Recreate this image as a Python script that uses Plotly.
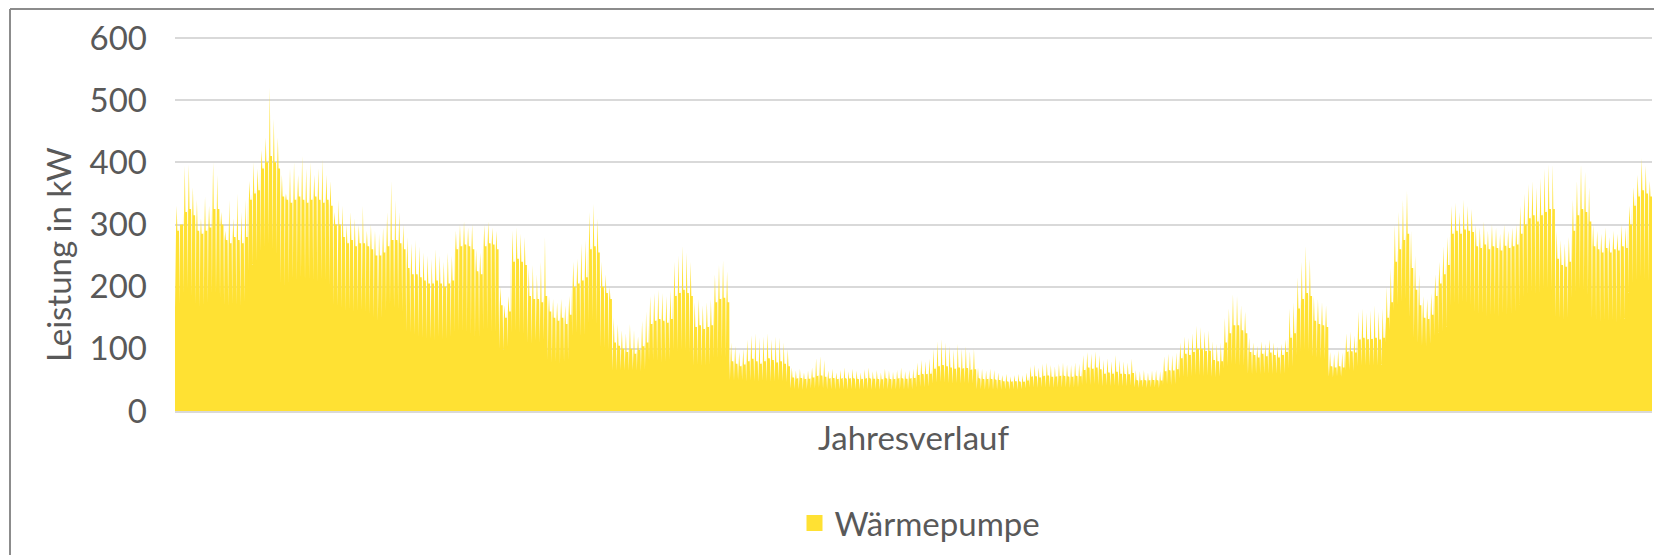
import plotly.graph_objects as go

# Daily values (kW): daytime peak, typical level, night dip
peak_kw = [
    330, 300, 395, 397, 360, 340, 310, 345, 330, 400,
    380, 320, 290, 340, 310, 350, 320, 340, 370, 400,
    390, 420, 440, 520, 470, 440, 380, 350, 390, 400,
    380, 410, 390, 400, 380, 390, 405, 380, 370, 320,
    340, 330, 300, 320, 310, 300, 330, 290, 300, 290,
    285, 295, 320, 370, 340, 320, 300, 280, 270, 275,
    265, 255, 250, 245, 260, 250, 240, 255, 250, 290,
    300, 305, 295, 300, 260, 255, 300, 305, 295, 290,
    200, 170, 185, 290, 295, 285, 280, 230, 235, 220,
    240, 280, 185, 180, 175, 180, 170, 185, 240, 245,
    270, 275, 320, 333, 310, 240, 220, 200, 150, 140,
    130, 125, 140, 130, 120, 145, 160, 185, 190, 195,
    190, 185, 195, 240, 250, 266, 255, 240, 175, 180,
    170, 175, 180, 220, 235, 242, 225, 110, 105, 95,
    100, 115, 122, 125, 118, 120, 125, 115, 120, 118,
    110, 100, 70, 65, 68, 62, 65, 70, 85, 88,
    82, 65, 68, 62, 66, 70, 64, 68, 65, 62,
    67, 70, 64, 66, 62, 68, 65, 63, 66, 70,
    64, 66, 68, 78, 82, 80, 84, 100, 112, 116,
    110, 105, 98, 108, 100, 104, 96, 100, 70, 68,
    65, 68, 66, 62, 58, 60, 56, 58, 60, 58,
    62, 72, 75, 70, 76, 78, 74, 72, 76, 78,
    75, 74, 78, 76, 90, 95, 92, 96, 90, 82,
    85, 80, 90, 82, 80, 78, 84, 66, 64, 66,
    62, 65, 66, 64, 88, 92, 90, 94, 110, 120,
    118, 125, 137, 135, 128, 130, 112, 108, 110, 150,
    165, 188, 185, 170, 160, 118, 110, 105, 112, 108,
    115, 110, 104, 108, 115, 165, 175, 215, 240, 266,
    245, 185, 180, 175, 170, 95, 92, 98, 94, 125,
    128, 122, 160, 165, 158, 162, 170, 160, 165, 200,
    230, 300, 320, 340, 354, 290, 250, 220, 185, 180,
    190, 220, 240, 265, 280, 330, 335, 320, 340, 330,
    325, 300, 295, 305, 290, 300, 295, 285, 300, 290,
    295, 300, 330, 350, 365, 370, 360, 375, 390, 397,
    397, 290, 275, 270, 280, 340, 370, 397, 385, 360,
    300, 290, 285, 295, 280, 290, 285, 300, 295, 330,
    360, 380, 407, 395, 370,
]

level_kw = [
    290, 300, 320, 325, 315, 290, 285, 290, 295, 325,
    325, 300, 275, 270, 280, 275, 270, 280, 340, 350,
    355, 390, 400, 410, 400, 390, 345, 340, 335, 340,
    345, 340, 335, 340, 345, 340, 335, 340, 330, 300,
    300, 280, 270, 275, 265, 270, 270, 265, 260, 250,
    250, 255, 265, 275, 275, 270, 260, 230, 220, 220,
    215, 210, 205, 205, 210, 205, 200, 205, 210, 260,
    265, 268, 265, 260, 225, 220, 265, 270, 268, 260,
    170, 150, 160, 240, 245, 240, 235, 185, 180, 180,
    175, 185, 160, 150, 145, 150, 140, 155, 200, 205,
    210, 215, 260, 265, 255, 200, 190, 180, 110, 105,
    100, 95, 100, 92, 98, 104, 110, 140, 145, 148,
    145, 142, 148, 185, 190, 195, 190, 185, 135, 138,
    132, 135, 138, 175, 180, 182, 175, 80, 76, 72,
    75, 80, 84, 80, 76, 80, 85, 82, 78, 80,
    76, 72, 54, 52, 53, 51, 52, 54, 56, 57,
    55, 52, 53, 51, 52, 53, 52, 53, 52, 51,
    52, 53, 52, 52, 51, 53, 52, 51, 52, 53,
    52, 52, 53, 58, 60, 59, 60, 68, 72, 74,
    72, 70, 68, 70, 68, 69, 66, 67, 53, 52,
    51, 52, 51, 50, 48, 48, 47, 48, 48, 47,
    49, 55, 56, 54, 56, 57, 55, 55, 56, 57,
    56, 55, 57, 56, 66, 70, 68, 70, 67, 60,
    62, 60, 63, 60, 60, 59, 61, 50, 49, 50,
    49, 50, 50, 49, 64, 66, 65, 67, 85, 92,
    90, 95, 100, 100, 96, 97, 82, 80, 80, 110,
    125, 138, 138, 130, 125, 95, 90, 86, 92, 88,
    94, 90, 86, 90, 95, 118, 125, 165, 180, 190,
    185, 145, 140, 138, 135, 72, 70, 72, 70, 95,
    96, 94, 115, 118, 115, 116, 118, 115, 118, 150,
    175, 240, 260, 275, 285, 230, 195, 170, 150, 148,
    155, 185, 205, 220, 235, 285, 290, 285, 292, 290,
    288, 265, 262, 268, 260, 265, 262, 258, 266, 262,
    265, 268, 285, 300, 310, 315, 305, 315, 320, 325,
    325, 245, 235, 232, 240, 290, 315, 325, 320, 305,
    265, 260, 255, 262, 255, 260, 258, 265, 262, 300,
    330, 345, 355, 350, 345,
]

low_kw = [
    165, 170, 190, 195, 185, 172, 168, 170, 175, 188,
    190, 180, 170, 168, 172, 170, 168, 175, 225, 235,
    240, 255, 262, 270, 258, 250, 205, 200, 205, 212,
    210, 215, 208, 212, 210, 208, 212, 210, 200, 170,
    168, 165, 160, 162, 158, 160, 162, 158, 155, 150,
    145, 148, 160, 168, 165, 162, 158, 128, 125, 122,
    120, 118, 115, 116, 114, 118, 115, 116, 118, 125,
    128, 126, 125, 124, 120, 118, 130, 132, 128, 125,
    100, 98, 102, 125, 128, 124, 122, 110, 108, 112,
    110, 115, 82, 78, 80, 75, 78, 82, 122, 125,
    120, 122, 140, 145, 138, 102, 100, 98, 65, 64,
    66, 65, 64, 66, 65, 64, 66, 80, 82, 80,
    78, 80, 82, 95, 96, 98, 95, 94, 73, 74,
    72, 73, 74, 85, 86, 88, 85, 50, 49, 50,
    50, 48, 49, 48, 47, 49, 48, 47, 48, 49,
    48, 47, 36, 35, 35, 34, 35, 36, 36, 37,
    36, 35, 35, 34, 35, 35, 34, 35, 35, 34,
    35, 35, 34, 35, 34, 35, 35, 34, 35, 35,
    34, 35, 35, 38, 39, 38, 39, 44, 46, 47,
    46, 45, 44, 45, 44, 45, 44, 44, 35, 35,
    34, 35, 34, 34, 34, 35, 34, 35, 34, 35,
    36, 38, 38, 37, 38, 38, 38, 37, 38, 38,
    38, 37, 38, 38, 42, 43, 42, 43, 42, 40,
    41, 40, 41, 40, 40, 40, 41, 38, 37, 38,
    37, 38, 38, 37, 42, 43, 42, 43, 52, 55,
    54, 56, 58, 57, 56, 57, 55, 54, 55, 68,
    72, 75, 74, 73, 72, 60, 59, 60, 59, 60,
    60, 59, 60, 59, 60, 68, 72, 90, 95, 98,
    96, 86, 85, 84, 82, 55, 54, 56, 55, 65,
    66, 64, 72, 74, 73, 72, 74, 73, 74, 110,
    130, 160, 170, 175, 180, 150, 118, 110, 105, 104,
    108, 120, 125, 128, 135, 168, 172, 170, 174, 172,
    170, 158, 155, 156, 152, 155, 154, 150, 156, 154,
    155, 158, 170, 182, 188, 192, 188, 190, 194, 195,
    192, 152, 148, 146, 150, 180, 190, 195, 192, 185,
    148, 145, 142, 146, 144, 145, 142, 146, 148, 190,
    205, 210, 215, 212, 208,
]

series_name = "Wärmepumpe"
y_title = "Leistung in kW"
x_title = "Jahresverlauf"
y_ticks = [0, 100, 200, 300, 400, 500, 600]

# hour-of-day template for the daily shape: level, night dip, level, peak, level, level
profile_hours = [0, 3, 6, 10, 14, 23]

YELLOW = "#FFE133"
TEXT = "#595959"
GRID = "#D9D9D9"
FONT = "Lato"
FS = 33

hours, power = [], []
for d, (pk, lv, lo) in enumerate(zip(peak_kw, level_kw, low_kw)):
    for h, v in zip(profile_hours, (lv, lo, lv, pk, lv, lv)):
        hours.append(d * 24 + h)
        power.append(v)

fig = go.Figure()
fig.add_trace(go.Scatter(
    x=hours, y=power, mode="lines", line=dict(width=0, color=YELLOW),
    fill="tozeroy", fillcolor=YELLOW, showlegend=False, hoverinfo="skip",
))
fig.add_trace(go.Scatter(
    x=[None], y=[None], mode="markers", name=series_name,
    marker=dict(symbol="square", size=18, color=YELLOW),
))

# page body has an 8px margin, so the figure is 8px smaller than the window
W, H = 1654, 547
L, R, T, B = 167, 10, 27, 144
pw, ph = W - L - R, H - T - B
Y_TOP = 600 * ph / 373  # keeps the 600 gridline just inside the plot top

def px_x(p):
    return (p - L) / pw

def px_y(p):
    return (H - B - p) / ph

fig.update_layout(
    width=W, height=H,
    margin=dict(l=L, r=R, t=T, b=B, autoexpand=False),
    paper_bgcolor="white", plot_bgcolor="white",
    font=dict(family=FONT, size=FS, color=TEXT),
    xaxis=dict(
        range=[0, 365 * 24 - 1], showgrid=False, showticklabels=False,
        zeroline=False, showline=True, linecolor=GRID, linewidth=1.5,
        ticks="", title=dict(text=x_title, font=dict(size=FS, color=TEXT), standoff=15),
    ),
    yaxis=dict(
        range=[0, Y_TOP], tickvals=y_ticks, showgrid=True, gridcolor=GRID, gridwidth=1.5,
        zeroline=False, showline=False, ticks="", ticklabelstandoff=27,
        tickfont=dict(size=FS, color=TEXT),
    ),
    legend=dict(
        orientation="h", x=px_x(912), xanchor="center", y=px_y(515), yanchor="middle",
        font=dict(size=FS, color=TEXT), itemwidth=30, bgcolor="rgba(0,0,0,0)",
    ),
    annotations=[
        dict(text=y_title, textangle=-90, xref="paper", yref="paper",
             x=px_x(50), y=px_y(247), xanchor="center", yanchor="middle",
             showarrow=False, font=dict(size=FS, color=TEXT)),
    ],
    shapes=[
        dict(type="line", xref="paper", yref="paper", x0=px_x(2), x1=px_x(2),
             y0=px_y(1), y1=px_y(H + 5), line=dict(color="#8C8C8C", width=2)),
        dict(type="line", xref="paper", yref="paper", x0=px_x(2), x1=px_x(W + 5),
             y0=px_y(1), y1=px_y(1), line=dict(color="#8C8C8C", width=2)),
    ],
)

fig.write_html("out.html")
